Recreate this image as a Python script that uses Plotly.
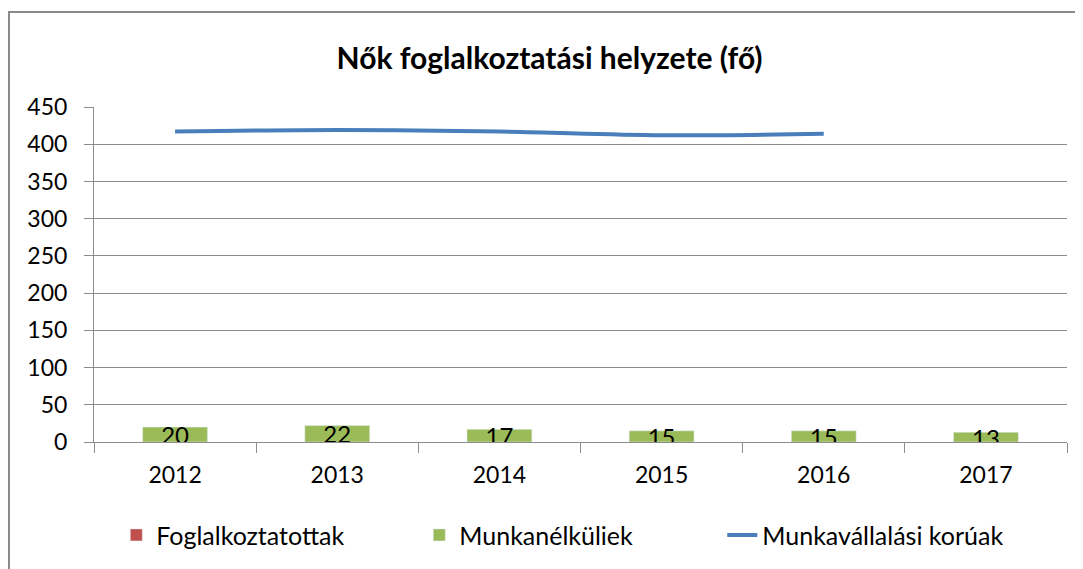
import plotly.graph_objects as go

# data
years = ["2012", "2013", "2014", "2015", "2016", "2017"]
foglalkoztatottak = [None, None, None, None, None, None]
munkanelkuliek = [20, 22, 17, 15, 15, 13]
munkavallalasi_koruak = [417, 419, 417, 412, 414, None]

FONT = "Lato"
GRID = "#8c8c8c"

fig = go.Figure()
fig.add_trace(go.Bar(x=years, y=foglalkoztatottak, name="Foglalkoztatottak",
                     marker=dict(color="#c0504d"), width=0.4))
fig.add_trace(go.Bar(x=years, y=munkanelkuliek, name="Munkanélküliek",
                     marker=dict(color="#9bbb59"), width=0.4,
                     text=[str(v) for v in munkanelkuliek],
                     textposition="inside", insidetextanchor="middle",
                     textangle=0, constraintext="none",
                     textfont=dict(family=FONT, size=24, color="#000000")))
fig.add_trace(go.Scatter(x=years, y=munkavallalasi_koruak, name="Munkavállalási korúak",
                         mode="lines", line=dict(color="#4a7ebb", width=4, shape="spline"),
                         connectgaps=False))

# page body has an 8px margin, so margins are shifted by 8px
fig.update_layout(
    width=1083, height=569,
    barmode="overlay",
    paper_bgcolor="white", plot_bgcolor="white",
    margin=dict(l=86, r=24, t=99, b=135, autoexpand=False),
    font=dict(family=FONT, size=23, color="#000000"),
    title=dict(text="<b>Nők foglalkoztatási helyzete (fő)</b>", x=0.5, xanchor="center",
               y=0.912, yanchor="middle", font=dict(family=FONT, size=30)),
    uniformtext=dict(minsize=24, mode="show"),
    legend=dict(orientation="h", x=0.49, xanchor="center", y=-0.278, yanchor="middle",
                font=dict(family=FONT, size=25), itemwidth=30, traceorder="normal",
                entrywidth=258),
    showlegend=True,
)
fig.update_xaxes(showline=True, linecolor=GRID, linewidth=1, ticks="outside",
                 tickson="boundaries", ticklen=10, tickcolor=GRID,
                 ticklabelstandoff=12, showgrid=False, automargin=False)
fig.update_yaxes(range=[0, 450], dtick=50, showline=True, linecolor=GRID, linewidth=1,
                 ticks="outside", ticklen=9, tickcolor=GRID, ticklabelstandoff=12,
                 showgrid=True, gridcolor=GRID, gridwidth=1, zeroline=False,
                 automargin=False)

# outer chart border (extends past the right and bottom of the picture)
fig.add_shape(type="rect", xref="paper", yref="paper",
              x0=-0.0874, x1=1.2, y0=-1.0, y1=1.2836,
              line=dict(color="#8a8a8a", width=2), fillcolor="rgba(0,0,0,0)", layer="above")

fig.write_html("out.html")
